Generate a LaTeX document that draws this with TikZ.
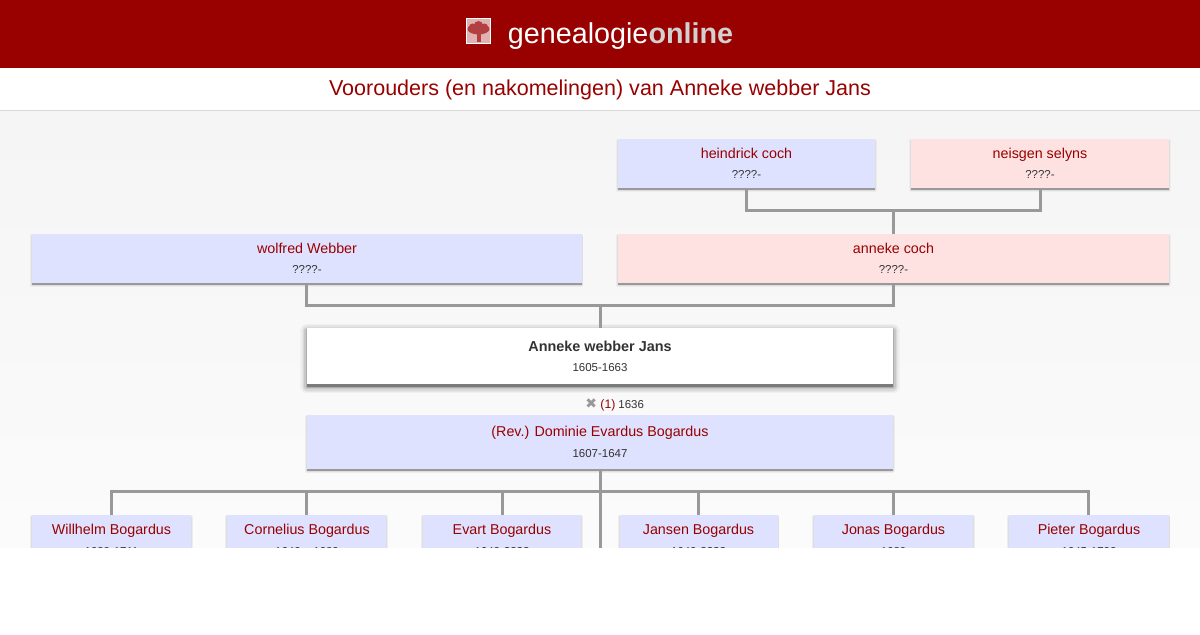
\documentclass[tikz,border=0pt]{standalone}
\usepackage{fontspec}
\setmainfont{Liberation Sans}
\newfontfamily\symbolfont{DejaVu Sans}
\usetikzlibrary{shadows}
\definecolor{siteRed}{HTML}{990000}
\definecolor{manBlue}{HTML}{DFE2FE}
\definecolor{womanPink}{HTML}{FEE2E2}
\definecolor{lineGrey}{HTML}{999999}
\definecolor{dateGrey}{HTML}{333333}
\tikzset{
    shadowlayer/.style n args={3}{general shadow={shadow xshift=0pt, shadow yshift=#1, fill=#3, draw=#3, line join=round, line width=#2}},
    shadowcore/.style 2 args={general shadow={shadow xshift=0pt, shadow yshift=#1, fill=#2}},
    lowshadow/.style={shadowlayer={-1.5pt}{2.5pt}{black!7}, shadowlayer={-1.5pt}{1.5pt}{black!13}, shadowcore={-1.5pt}{black!40}},
    highshadow/.style={shadowlayer={-2pt}{10pt}{black!6}, shadowlayer={-2pt}{8pt}{black!10}, shadowlayer={-2pt}{6pt}{black!15}, shadowlayer={-2pt}{4pt}{black!22}, shadowlayer={-2pt}{2pt}{black!32}, shadowcore={-2pt}{black!52}},
    person/.style={anchor=north west, inner sep=0pt, outer sep=0pt, minimum height=49*0.75pt},
    man/.style={person, lowshadow, fill=manBlue},
    woman/.style={person, lowshadow, fill=womanPink},
    nametext/.style={anchor=base, text=siteRed, font=\fontsize{10.72pt}{12pt}\selectfont},
    datetext/.style={anchor=base, text=dateGrey, font=\fontsize{8.6pt}{10pt}\selectfont},
    tie/.style={draw=lineGrey, line width=2.25pt}
}
\begin{document}
\begin{tikzpicture}[x=0.75pt, y=-0.75pt]
    % Page bands:
    \useasboundingbox (0, 0) rectangle (1200, 635);
    \fill[white] (0, 0) rectangle (1200, 635);
    \shade[top color=black!4, bottom color=black!1.5] (0, 111) rectangle (1200, 548);
    \fill[siteRed] (0, 0) rectangle (1200, 68);
    \draw[black!15, line width=.75pt] (0, 110.5) -- (1200, 110.5);

    % Header:
    \node[draw=white, fill=siteRed!30!white, line width=.75pt, minimum size=18.5pt, inner sep=0pt] (logo) at (478.5, 31) {};
    \fill[siteRed!75!white] (478.5, 29) ellipse (11 and 5.5);
    \fill[siteRed!75!white] (472.5, 27) circle (3.5);
    \fill[siteRed!75!white] (478.5, 25.5) circle (4.5);
    \fill[siteRed!75!white] (484.5, 27) circle (3.5);
    \fill[siteRed!75!white] (476.5, 30) rectangle (480.5, 42);
    \node[anchor=base, text=white, font=\fontsize{21.55pt}{26pt}\selectfont] (site) at (620.5, 44) {genealogie\textcolor{black!18}{\textbf{online}}};
    \node[anchor=base, text=siteRed, font=\fontsize{16.14pt}{20pt}\selectfont] (title) at (600, 95.5) {Voorouders (en nakomelingen) van Anneke webber Jans};

    % Fixed points of the ties:
    \coordinate (topjoin) at (893.5, 210);
    \coordinate (midjoin) at (600.5, 305.5);
    \coordinate (kidsjoin) at (600.5, 491);
    \coordinate (kidsend) at (600.5, 548);

    % Persons:
    \node[man, minimum width=257*0.75pt] (heindrick) at (618, 139) {};
    \node[woman, minimum width=258*0.75pt] (neisgen) at (911, 139) {};
    \node[man, minimum width=550*0.75pt] (wolfred) at (31.5, 234) {};
    \node[woman, minimum width=551*0.75pt] (anneke) at (618, 234) {};
    \node[person, highshadow, fill=white, minimum width=586*0.75pt, minimum height=56*0.75pt] (jans) at (307, 328) {};
    \node[man, minimum width=586*0.75pt, minimum height=54*0.75pt] (evardus) at (307, 415) {};
    \node[man, minimum width=159*0.75pt] (willhelm) at (32, 515) {};
    \node[man, minimum width=159*0.75pt] (cornelius) at (227, 515) {};
    \node[man, minimum width=158*0.75pt] (evart) at (423, 515) {};
    \node[man, minimum width=158*0.75pt] (jansen) at (619.5, 515) {};
    \node[man, minimum width=159*0.75pt] (jonas) at (814, 515) {};
    \node[man, minimum width=160*0.75pt] (pieter) at (1008.5, 515) {};

    % Ties:
    \draw[tie] (heindrick.south) |- (topjoin) -| (neisgen.south);
    \draw[tie] (topjoin) -- (anneke.north);
    \draw[tie] (wolfred.south) |- (midjoin) -| (anneke.south);
    \draw[tie] (midjoin) -- (midjoin |- jans.north);
    \draw[tie] (kidsjoin |- evardus.south) -- (kidsjoin);
    \draw[tie] (willhelm.north) |- (kidsjoin) -| (pieter.north);
    \draw[tie] (cornelius.north) |- (kidsjoin);
    \draw[tie] (evart.north) |- (kidsjoin);
    \draw[tie] (jansen.north) |- (kidsjoin);
    \draw[tie] (jonas.north) |- (kidsjoin);
    \draw[tie] (kidsjoin) -- (kidsend);

    % Labels:
    \node[nametext] (n1) at (746.5, 158) {heindrick coch};
    \node[datetext] (d1) at (746.5, 178) {????-};
    \node[nametext] (n2) at (1040, 158) {neisgen selyns};
    \node[datetext] (d2) at (1040, 178) {????-};
    \node[nametext] (n3) at (307, 253) {wolfred Webber};
    \node[datetext] (d3) at (307, 273) {????-};
    \node[nametext] (n4) at (893.5, 253) {anneke coch};
    \node[datetext] (d4) at (893.5, 273) {????-};
    \node[nametext, text=dateGrey, font=\fontsize{10.8pt}{12pt}\selectfont\bfseries] (n5) at (600, 351) {Anneke webber Jans};
    \node[datetext] (d5) at (600, 371) {1605-1663};
    \node[datetext, anchor=base west, inner sep=0pt] (marriage) at (585, 408) {\textcolor{lineGrey}{\fontsize{10.5pt}{10pt}\symbolfont ✖}\hspace{2.6pt}\textcolor{siteRed}{\fontsize{9.2pt}{10pt}\selectfont(1)}\hspace{2.2pt}1636};
    \node[nametext] (n6) at (600, 436) {(Rev.) Dominie Evardus Bogardus};
    \node[datetext] (d6) at (600, 457) {1607-1647};
    \node[nametext] (n7) at (111.5, 534) {Willhelm Bogardus};
    \node[nametext] (n8) at (307, 534) {Cornelius Bogardus};
    \node[nametext] (n9) at (502, 534) {Evart Bogardus};
    \node[nametext] (n10) at (698.5, 534) {Jansen Bogardus};
    \node[nametext] (n11) at (893.5, 534) {Jonas Bogardus};
    \node[nametext] (n12) at (1089, 534) {Pieter Bogardus};
    \node[datetext] (d7) at (111.5, 555) {1639-1711};
    \node[datetext] (d8) at (307, 555) {1640 ± 1680};
    \node[datetext] (d9) at (502, 555) {1640-????};
    \node[datetext] (d10) at (698.5, 555) {1640-????};
    \node[datetext] (d11) at (893.5, 555) {1639};
    \node[datetext] (d12) at (1089, 555) {1645-1702};

    % White foot cuts the page off:
    \fill[white] (0, 548) rectangle (1200, 635);
\end{tikzpicture}
\end{document}
